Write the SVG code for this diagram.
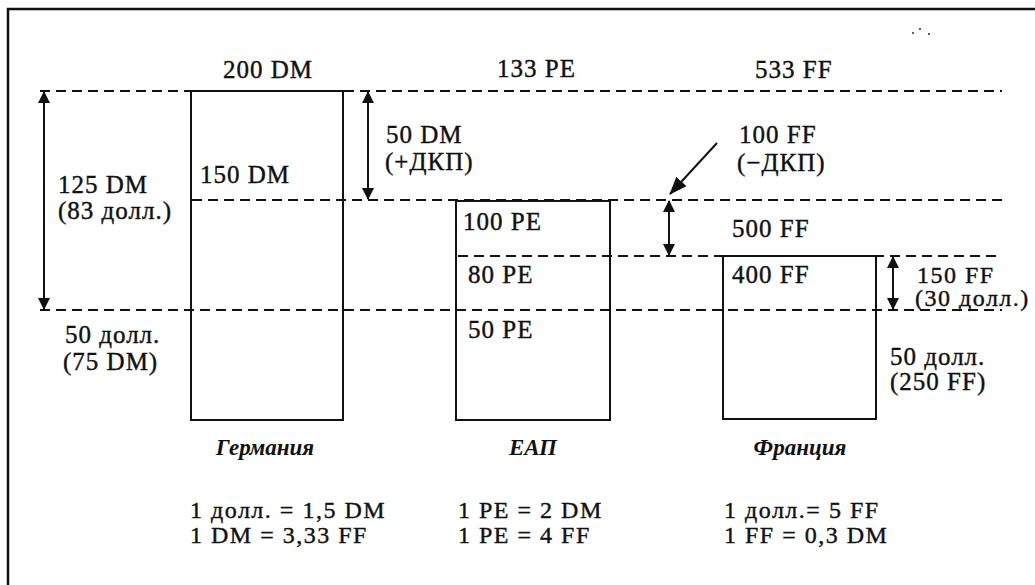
<svg xmlns="http://www.w3.org/2000/svg" width="1035" height="585" viewBox="0 0 1035 585">
<style>
  .t { font-family: "Liberation Serif", "Times New Roman", serif; font-size: 25px; letter-spacing: 1px; fill: #111; stroke: #111; stroke-width: 0.4; }
  .s { font-size: 24px; letter-spacing: 1.5px; }
  .lbl { font-family: "Liberation Serif", "Times New Roman", serif; font-size: 23px; font-style: italic; font-weight: bold; fill: #111; text-anchor: middle; }
  .dash { stroke: #111; stroke-width: 2; stroke-dasharray: 10 6; fill: none; }
  .box { stroke: #111; stroke-width: 2; fill: none; }
  .arr { stroke: #111; stroke-width: 2; fill: none; marker-start: url(#ah); marker-end: url(#ah); }
</style>
<defs>
  <marker id="ah" viewBox="0 0 12 12" refX="11" refY="6" markerWidth="12" markerHeight="12" markerUnits="userSpaceOnUse" orient="auto-start-reverse">
    <path d="M0,0 L12,6 L0,12 Z" fill="#111"/>
  </marker>
  <marker id="ah2" viewBox="0 0 18 14" refX="17" refY="7" markerWidth="18" markerHeight="14" markerUnits="userSpaceOnUse" orient="auto">
    <path d="M0,0 L18,7 L0,14 Z" fill="#111"/>
  </marker>
</defs>
<rect width="1035" height="585" fill="#fff"/>
<g id="frame">
  <path d="M8,585 L8,9 L1035,9" stroke="#111" stroke-width="2.5" fill="none"/>
  <circle cx="913" cy="33" r="0.9" fill="#111"/>
  <circle cx="920" cy="29" r="0.9" fill="#111"/>
  <circle cx="929" cy="34" r="0.9" fill="#111"/>
</g>
<g id="connectors">
  <line class="dash" x1="40" y1="91" x2="1002" y2="91"/>
  <line class="dash" x1="192" y1="200" x2="1002" y2="200"/>
  <line class="dash" x1="458" y1="256" x2="1000" y2="256"/>
  <line class="dash" x1="40" y1="310" x2="1002" y2="310"/>
  <line class="arr" x1="44" y1="92" x2="44" y2="309"/>
  <line class="arr" x1="368" y1="92" x2="368" y2="199"/>
  <line class="arr" x1="669" y1="201" x2="669" y2="255"/>
  <line class="arr" x1="893" y1="257" x2="893" y2="309"/>
  <line x1="717" y1="143" x2="670" y2="194" stroke="#111" stroke-width="2" marker-end="url(#ah2)"/>
</g>
<g id="germany">
  <rect class="box" x="191" y="91" width="152" height="329"/>
  <text class="t" x="223" y="78">200 DM</text>
  <text class="t" x="200" y="183">150 DM</text>
  <text class="lbl" x="265" y="455">Германия</text>
  <text class="t s" x="190" y="518">1 долл. = 1,5 DM</text>
  <text class="t s" x="190" y="543">1 DM = 3,33 FF</text>
</g>
<g id="eap">
  <rect class="box" x="456" y="201" width="154" height="219"/>
  <text class="t" x="497" y="77">133 PE</text>
  <text class="t" x="463" y="230">100 PE</text>
  <text class="t" x="468" y="283">80 PE</text>
  <text class="t" x="468" y="338">50 PE</text>
  <text class="lbl" x="533" y="455">ЕАП</text>
  <text class="t s" x="458" y="518">1 PE = 2 DM</text>
  <text class="t s" x="458" y="543">1 PE = 4 FF</text>
</g>
<g id="france">
  <rect class="box" x="723" y="256" width="153" height="163"/>
  <text class="t" x="755" y="78">533 FF</text>
  <text class="t" x="732" y="237">500 FF</text>
  <text class="t" x="732" y="283">400 FF</text>
  <text class="lbl" x="800" y="455">Франция</text>
  <text class="t s" x="724" y="518">1 долл.= 5 FF</text>
  <text class="t s" x="724" y="543">1 FF = 0,3 DM</text>
</g>
<g id="left-labels">
  <text class="t" x="58" y="193">125 DM</text>
  <text class="t" x="58" y="219">(83 долл.)</text>
  <text class="t" x="65" y="343">50 долл.</text>
  <text class="t" x="63" y="370">(75 DM)</text>
</g>
<g id="dkp-plus">
  <text class="t" x="386" y="143">50 DM</text>
  <text class="t" x="385" y="170">(+ДКП)</text>
</g>
<g id="dkp-minus">
  <text class="t" x="739" y="143">100 FF</text>
  <text class="t" x="737" y="171">(−ДКП)</text>
</g>
<g id="right-labels">
  <text class="t s" x="917" y="283">150 FF</text>
  <text class="t s" x="915" y="306">(30 долл.)</text>
  <text class="t" x="890" y="365">50 долл.</text>
  <text class="t" x="890" y="390">(250 FF)</text>
</g>
</svg>
